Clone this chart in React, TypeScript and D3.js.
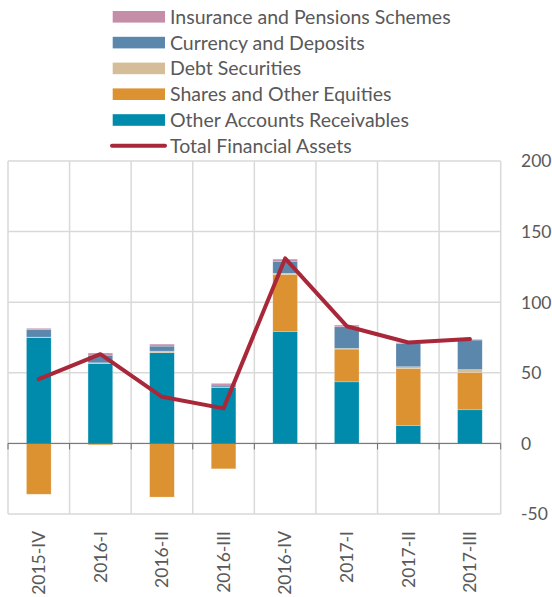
import React from "react";
import * as d3 from "d3";

const categories = ["2015-IV", "2016-I", "2016-II", "2016-III", "2016-IV", "2017-I", "2017-II", "2017-III"];
const otherAccounts = [75, 56.6, 64.2, 39.7, 79.3, 43.6, 12.7, 23.8];
const sharesEquities = [-36, -1, -38, -18, 40.4, 23.2, 40.4, 26.5];
const debtSecurities = [0.3, 0.5, 1.2, 0.3, 0.8, 0.5, 1.2, 2];
const currencyDeposits = [5.2, 5.4, 3.5, 1.3, 8.5, 15.3, 16.5, 20.9];
const insurancePensions = [1, 1.5, 1.4, 1.2, 1.5, 1.2, 0.6, 0.5];
const totalAssets = [45.5, 63.2, 33, 24.8, 131, 83, 71.5, 73.9];
const yTicks = [-50, 0, 50, 100, 150, 200];

const seriesDefs = [
  { name: "Other Accounts Receivables", values: otherAccounts, color: "#008aab" },
  { name: "Shares and Other Equities", values: sharesEquities, color: "#dd9231" },
  { name: "Debt Securities", values: debtSecurities, color: "#d4bd98" },
  { name: "Currency and Deposits", values: currencyDeposits, color: "#5b87ad" },
  { name: "Insurance and Pensions Schemes", values: insurancePensions, color: "#c58ea8" },
];
const lineColor = "#a8283a";
const textColor = "#595959";
const font = "Lato, 'Open Sans', sans-serif";

export default function App() {
  const W = 552, H = 597;
  const left = 8, right = 500.7, top = 161, bottom = 514;
  const x = d3.scaleBand<string>().domain(categories).range([left, right]);
  const y = d3.scaleLinear().domain([-50, 200]).range([bottom, top]);
  const barW = x.bandwidth() * 0.4;

  const segs: { key: string; x: number; y0: number; y1: number; color: string }[] = [];
  categories.forEach((c, i) => {
    let pos = 0, neg = 0;
    seriesDefs.forEach((s) => {
      const v = s.values[i];
      let a, b;
      if (v >= 0) { a = pos; b = pos + v; pos = b; }
      else { a = neg; b = neg + v; neg = b; }
      segs.push({ key: s.name + c, x: (x(c) as number) + x.bandwidth() / 2 - barW / 2, y0: y(Math.max(a, b)), y1: y(Math.min(a, b)), color: s.color });
    });
  });

  const line = d3.line<number>()
    .x((_, i) => (x(categories[i]) as number) + x.bandwidth() / 2)
    .y((d) => y(d));

  const legendItems = [
    { name: "Insurance and Pensions Schemes", color: "#c58ea8", type: "rect" },
    { name: "Currency and Deposits", color: "#5b87ad", type: "rect" },
    { name: "Debt Securities", color: "#d4bd98", type: "rect" },
    { name: "Shares and Other Equities", color: "#dd9231", type: "rect" },
    { name: "Other Accounts Receivables", color: "#008aab", type: "rect" },
    { name: "Total Financial Assets", color: lineColor, type: "line" },
  ];

  const boundaries = d3.range(categories.length + 1).map((k) => left + k * x.step());

  return (
    <svg width={W} height={H} style={{ position: "absolute", left: 0, top: 0 }} fontFamily={font}>
      <rect x={0} y={0} width={W} height={H} fill="#fff" />
      {legendItems.map((it, i) => {
        const cy = 16.8 + i * 25.8;
        return (
          <g key={it.name}>
            {it.type === "rect" ? (
              <rect x={112.7} y={cy - 5.8} width={52.3} height={11.6} fill={it.color} />
            ) : (
              <line x1={112} x2={165} y1={cy} y2={cy} stroke={it.color} strokeWidth={4} strokeLinecap="round" />
            )}
            <text x={170} y={cy} dy="0.36em" fontSize={19.5} fill={textColor}>{it.name}</text>
          </g>
        );
      })}
      {yTicks.map((t) => (
        <line key={"h" + t} x1={left} x2={right} y1={y(t)} y2={y(t)} stroke="#d9d9d9" strokeWidth={1.5} />
      ))}
      {boundaries.map((b, k) => (
        <line key={"v" + k} x1={b} x2={b} y1={top} y2={bottom} stroke="#d9d9d9" strokeWidth={1.5} />
      ))}
      {segs.map((s) => (
        <rect key={s.key} x={s.x} y={s.y0} width={barW} height={Math.max(0, s.y1 - s.y0)} fill={s.color} stroke="#ffffff" strokeOpacity={0.35} strokeWidth={0.6} />
      ))}
      <line x1={left} x2={right} y1={y(0)} y2={y(0)} stroke="#6e6e6e" strokeWidth={1} />
      {boundaries.map((b, k) => (
        <line key={"t" + k} x1={b} x2={b} y1={y(0)} y2={y(0) + 6} stroke="#6e6e6e" strokeWidth={1} />
      ))}
      <path d={line(totalAssets) || ""} fill="none" stroke={lineColor} strokeWidth={4} strokeLinejoin="round" strokeLinecap="round" />
      {yTicks.map((t) => (
        <text key={"yl" + t} x={521} y={y(t)} dy="0.36em" fontSize={17.5} fill={textColor}>{t}</text>
      ))}
      {categories.map((c) => {
        const cx = (x(c) as number) + x.bandwidth() / 2;
        return (
          <text key={"xl" + c} transform={`translate(${cx},${531}) rotate(-90)`} textAnchor="end" dy="0.36em" fontSize={17.5} fill={textColor}>{c}</text>
        );
      })}
    </svg>
  );
}
